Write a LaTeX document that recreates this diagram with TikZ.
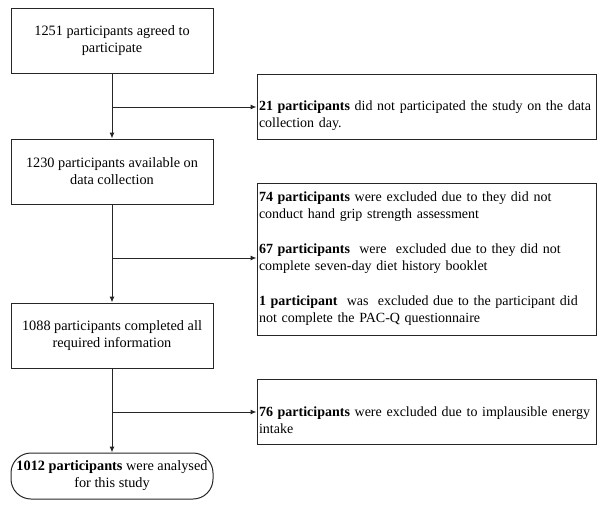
\documentclass[tikz,border=0pt]{standalone}
\usepackage{fontspec}
\setmainfont{Liberation Serif}
\usetikzlibrary{arrows.meta}

\begin{document}
\begin{tikzpicture}[
  x=1pt, y=-1pt,
  font=\fontsize{14.3}{17}\selectfont,
  stagebox/.style={draw=black!85, line width=1pt, minimum width=202pt, minimum height=65pt, align=center, inner sep=2pt},
  endbox/.style={stagebox, minimum height=46pt, rounded corners=20pt},
  exclbox/.style={draw=black!85, line width=1pt, minimum height=65pt, text width=335pt, align=left, inner xsep=2pt, font=\fontsize{14}{17}\selectfont},
  lowtext/.style={execute at begin node={\rule{0pt}{28pt}}},
  flow/.style={draw=black!85, line width=1pt, -{Latex[length=6pt,width=5pt]}}
]
  \useasboundingbox (0,0) rectangle (597,506);

  \node[stagebox] (agreed) at (112,41) {1251 participants agreed to\\participate};
  \node[stagebox] (available) at (112,171.5) {1230 participants available on\\data collection};
  \node[stagebox] (completed) at (112,335.5) {1088 participants completed all\\required information};
  \node[endbox] (analysed) at (112,476) {\textbf{1012 participants} were analysed\\for this study};

  \node[exclbox, lowtext] (notattend) at (426.5,106.5) {\mbox{\textbf{21 participants} did not participated the study on the data}\\collection day.};
  \node[exclbox, minimum height=152pt] (incomplete) at (426.5,259) {\mbox{\textbf{74 participants} were excluded due to they did not}\\conduct hand grip strength assessment\\[18pt]\mbox{\textbf{67 participants}\ \ were\ \ excluded due to they did not}\\complete seven-day diet history booklet\\[18pt]\mbox{\textbf{1 participant}\ \ was\ \ excluded due to the participant did}\\not complete the PAC-Q questionnaire};
  \node[exclbox, lowtext] (implausible) at (426.5,411.5) {\mbox{\textbf{76 participants} were excluded due to implausible energy}\\intake};

  \coordinate (b1) at (112,107);
  \coordinate (b2) at (112,258);
  \coordinate (b3) at (112,412);

  \foreach \a/\b in {agreed/available,available/completed,completed/analysed}
    \draw[flow] (\a) -- (\b);
  \foreach \c/\e in {b1/notattend,b2/incomplete,b3/implausible}
    \draw[flow] (\c) -- (\c -| \e.west);

\end{tikzpicture}
\end{document}
